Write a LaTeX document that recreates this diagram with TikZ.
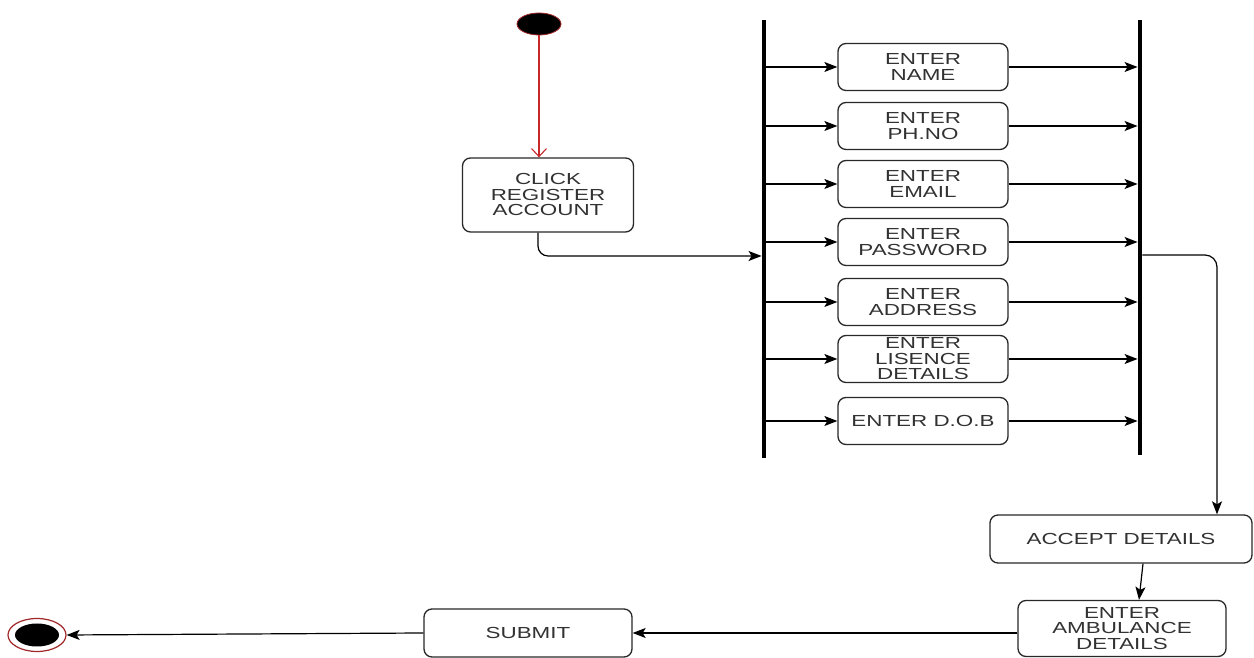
\documentclass[tikz,border=0pt]{standalone}
\usepackage{fontspec}
\setmainfont{Liberation Sans}[FakeStretch=1.4]
\usepackage{tikz}
\usetikzlibrary{arrows.meta,shapes.geometric,calc}

\begin{document}
\begin{tikzpicture}[x=1pt,y=1pt,
  act/.style={draw=lineColor,line width=1.3pt,rounded corners=8pt,fill=white,
    text=textColor,align=center,inner sep=0.5pt,minimum width=170,minimum height=47,
    font=\fontsize{16}{15.5}\selectfont},
  bar/.style={fill=black,inner sep=0pt,minimum width=4.5,draw=none},
  flow/.style={draw=black,line width=1.2pt,-{Stealth[length=13pt,width=10pt,inset=3pt]}},
  startflow/.style={draw=startColor,line width=1.1pt,-{Straight Barb[length=8pt,width=15pt]}},
  startnode/.style={ellipse,fill=black,draw=ringColor,line width=0.8pt,
    minimum width=44,minimum height=22,inner sep=0pt},
  endnode/.style={ellipse,fill=white,draw=ringColor,line width=1.2pt,
    minimum width=58,minimum height=33,inner sep=0pt}]
\definecolor{lineColor}{RGB}{40,40,40}
\definecolor{textColor}{RGB}{50,50,50}
\definecolor{startColor}{RGB}{200,40,40}
\definecolor{ringColor}{RGB}{160,40,40}
\path[use as bounding box,fill=white] (0,0) rectangle (1254,658);

\node[startnode] (start) at (539,634) {};
\node[act,minimum width=171,minimum height=74] (click) at (548,463) {CLICK\\REGISTER\\ACCOUNT};

\node[bar,minimum height=438] (forkL) at (764,419) {};
\node[bar,minimum height=435] (forkR) at (1140,420.5) {};

\node[act] (name) at (923,591) {ENTER\\NAME};
\node[act] (phone) at (923,532) {ENTER\\PH.NO};
\node[act] (email) at (923,474) {ENTER\\EMAIL};
\node[act] (pass) at (923,416) {ENTER\\PASSWORD};
\node[act] (addr) at (923,356) {ENTER\\ADDRESS};
\node[act] (lic) at (923,299) {ENTER\\LISENCE\\DETAILS};
\node[act] (dob) at (923,237) {ENTER D.O.B};

\node[act,minimum width=262,minimum height=48] (accept) at (1121,119) {ACCEPT DETAILS};
\node[act,minimum width=208,minimum height=56] (amb) at (1122,29.5) {ENTER\\AMBULANCE\\DETAILS};
\node[act,minimum width=208,minimum height=48] (submit) at (528,25) {SUBMIT};

\node[endnode] (stop) at (37,23) {};
\node[startnode,draw=none,minimum width=44,minimum height=23] (stopdot) at (stop) {};

\coordinate (joinL) at (538,402);
\coordinate (joinR) at (1217,403);

\draw[startflow] (start) -- (click.north -| start);
\draw[flow,rounded corners=10pt] (click.south -| joinL) -- (joinL) -- (forkL.west |- joinL);

\foreach \n in {name,phone,email,pass,addr,lic,dob}{
  \draw[flow] (forkL.east |- \n.west) -- (\n.west);
  \draw[flow] (\n.east) -- (forkR.west |- \n.east);
}

\draw[flow,rounded corners=12pt] (forkR.east |- joinR) -- (joinR) -- (joinR |- accept.north);
\draw[flow] ($(accept.south)+(22,0)$) -- ($(amb.north)+(17,0)$);
\draw[flow] (amb.west |- submit.east) -- (submit.east);
\draw[flow] (submit.west) -- (stop.east);
\end{tikzpicture}
\end{document}
